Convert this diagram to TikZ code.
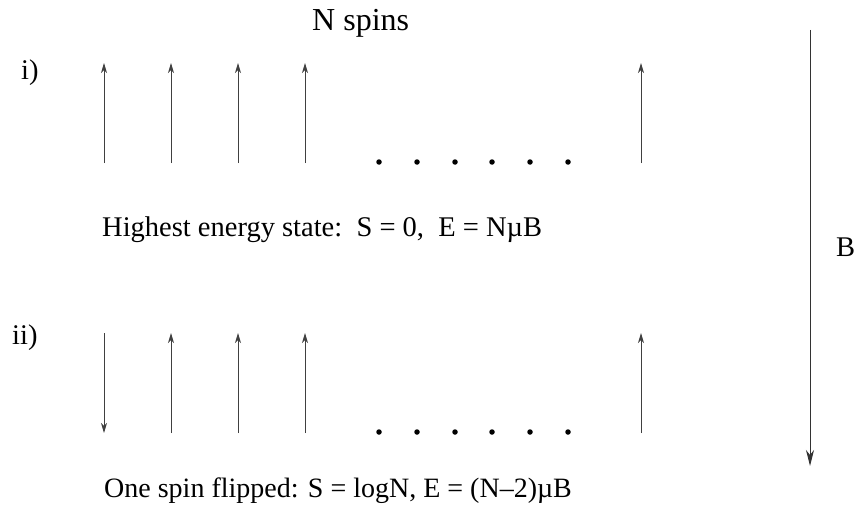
\documentclass[tikz,border=0pt]{standalone}
\usepackage{fontspec}
\setmainfont{Liberation Serif}
\usetikzlibrary{arrows.meta}
\begin{document}
\begin{tikzpicture}[x=1pt,y=-1pt,
  spin/.style={draw=black!75, line width=1pt, -{Stealth[length=10pt,width=6pt,inset=3pt]}},
  field/.style={draw=black!80, line width=1pt, -{Stealth[length=16pt,width=8pt,inset=5pt]}},
  lbl/.style={inner sep=0pt, anchor=base west, font=\fontsize{28.5}{32}\selectfont},
  dot/.style={fill=black, circle, inner sep=0pt, minimum size=5.5pt}]
\useasboundingbox (0,0) rectangle (859,508);
% labels
\node[lbl, font=\fontsize{32}{36}\selectfont] (nspins) at (312,31) {N spins};
\node[lbl] (li) at (21,80) {i)};
\node[lbl] (lii) at (12,344) {ii)};
\node[lbl] (t1) at (102,236) {Highest energy state:\ \ S = 0,\ \ E = N\textmu B};
\node[lbl, font=\fontsize{28}{32}\selectfont] (t2) at (104,497) {One spin flipped: S = logN, E = (N\textendash 2)\textmu B};
\node[lbl] (lb) at (836,256) {B};
% row i
\foreach \i/\x in {1/104,2/171,3/238,4/305,5/641}{
  \coordinate (ib\i) at (\x,163);
  \coordinate (it\i) at (\x,63);
  \draw[spin] (ib\i) -- (it\i);
}
% row ii
\coordinate (iit1) at (104,333);
\coordinate (iib1) at (104,433);
\draw[spin] (iit1) -- (iib1);
\foreach \i/\x in {2/171,3/238,4/305,5/641}{
  \coordinate (iib\i) at (\x,433);
  \coordinate (iit\i) at (\x,333);
  \draw[spin] (iib\i) -- (iit\i);
}
% dots
\foreach \i/\x in {1/379,2/417,3/455,4/492,5/530,6/568}{
  \node[dot] (di\i) at (\x,162) {};
  \node[dot] (dii\i) at (\x,432) {};
}
% field
\coordinate (bt) at (810,30);
\coordinate (bb) at (810,466);
\draw[field] (bt) -- (bb);
\end{tikzpicture}
\end{document}
